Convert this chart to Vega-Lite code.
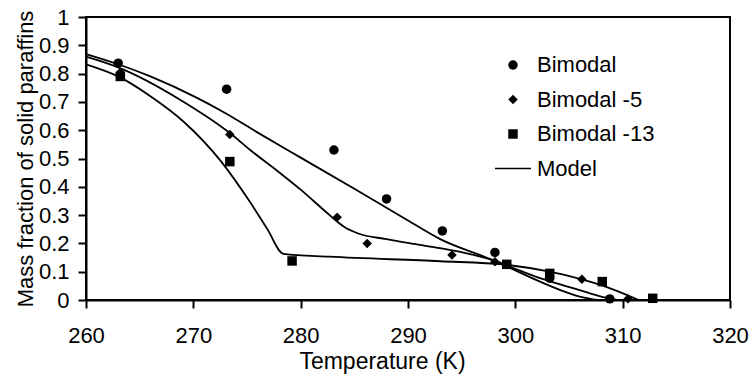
{
  "$schema": "https://vega.github.io/schema/vega-lite/v6.json",
  "width": 644,
  "height": 283,
  "autosize": "none",
  "padding": {"left": 86, "top": 17, "right": 25, "bottom": 76},
  "background": "white",
  "config": {
    "view": {"stroke": "black", "strokeWidth": 2},
    "font": "Liberation Sans",
    "axis": {
      "grid": false,
      "domainColor": "black",
      "domainWidth": 2,
      "tickColor": "black",
      "tickWidth": 2,
      "tickSize": 8,
      "labelColor": "black",
      "labelFont": "Liberation Sans",
      "labelFontSize": 22,
      "labelOverlap": false,
      "titleFont": "Liberation Sans",
      "titleColor": "black",
      "titleFontWeight": "normal"
    }
  },
  "datasets": {
    "points": [
      {"T": 263.0, "frac": 0.837, "series": "Bimodal"},
      {"T": 273.1, "frac": 0.745, "series": "Bimodal"},
      {"T": 283.1, "frac": 0.53, "series": "Bimodal"},
      {"T": 288.0, "frac": 0.357, "series": "Bimodal"},
      {"T": 293.2, "frac": 0.244, "series": "Bimodal"},
      {"T": 298.1, "frac": 0.168, "series": "Bimodal"},
      {"T": 303.2, "frac": 0.077, "series": "Bimodal"},
      {"T": 308.8, "frac": 0.004, "series": "Bimodal"},
      {"T": 263.2, "frac": 0.805, "series": "Bimodal -5"},
      {"T": 273.4, "frac": 0.585, "series": "Bimodal -5"},
      {"T": 283.4, "frac": 0.292, "series": "Bimodal -5"},
      {"T": 286.2, "frac": 0.2, "series": "Bimodal -5"},
      {"T": 294.1, "frac": 0.159, "series": "Bimodal -5"},
      {"T": 298.1, "frac": 0.135, "series": "Bimodal -5"},
      {"T": 306.2, "frac": 0.073, "series": "Bimodal -5"},
      {"T": 310.5, "frac": 0.004, "series": "Bimodal -5"},
      {"T": 263.2, "frac": 0.79, "series": "Bimodal -13"},
      {"T": 273.4, "frac": 0.489, "series": "Bimodal -13"},
      {"T": 279.2, "frac": 0.138, "series": "Bimodal -13"},
      {"T": 299.2, "frac": 0.126, "series": "Bimodal -13"},
      {"T": 303.2, "frac": 0.094, "series": "Bimodal -13"},
      {"T": 308.1, "frac": 0.065, "series": "Bimodal -13"},
      {"T": 312.8, "frac": 0.006, "series": "Bimodal -13"}
    ],
    "model": [
      {"T": 260.0, "frac": 0.869, "curve": "A"},
      {"T": 263.0, "frac": 0.833, "curve": "A"},
      {"T": 266.0, "frac": 0.79, "curve": "A"},
      {"T": 270.3, "frac": 0.715, "curve": "A"},
      {"T": 273.0, "frac": 0.66, "curve": "A"},
      {"T": 276.2, "frac": 0.587, "curve": "A"},
      {"T": 280.0, "frac": 0.503, "curve": "A"},
      {"T": 285.0, "frac": 0.393, "curve": "A"},
      {"T": 289.6, "frac": 0.29, "curve": "A"},
      {"T": 293.0, "frac": 0.215, "curve": "A"},
      {"T": 297.9, "frac": 0.141, "curve": "A"},
      {"T": 302.3, "frac": 0.065, "curve": "A"},
      {"T": 304.2, "frac": 0.035, "curve": "A"},
      {"T": 306.0, "frac": 0.012, "curve": "A"},
      {"T": 307.6, "frac": 0.0, "curve": "A"},
      {"T": 260.0, "frac": 0.86, "curve": "B"},
      {"T": 263.0, "frac": 0.822, "curve": "B"},
      {"T": 268.8, "frac": 0.707, "curve": "B"},
      {"T": 273.4, "frac": 0.59, "curve": "B"},
      {"T": 275.3, "frac": 0.53, "curve": "B"},
      {"T": 278.1, "frac": 0.448, "curve": "B"},
      {"T": 280.0, "frac": 0.39, "curve": "B"},
      {"T": 282.7, "frac": 0.3, "curve": "B"},
      {"T": 284.0, "frac": 0.26, "curve": "B"},
      {"T": 285.3, "frac": 0.236, "curve": "B"},
      {"T": 288.0, "frac": 0.215, "curve": "B"},
      {"T": 290.5, "frac": 0.198, "curve": "B"},
      {"T": 293.0, "frac": 0.183, "curve": "B"},
      {"T": 296.0, "frac": 0.16, "curve": "B"},
      {"T": 298.0, "frac": 0.14, "curve": "B"},
      {"T": 300.0, "frac": 0.11, "curve": "B"},
      {"T": 302.3, "frac": 0.077, "curve": "B"},
      {"T": 306.0, "frac": 0.035, "curve": "B"},
      {"T": 308.0, "frac": 0.012, "curve": "B"},
      {"T": 309.5, "frac": 0.0, "curve": "B"},
      {"T": 260.0, "frac": 0.833, "curve": "C"},
      {"T": 263.0, "frac": 0.79, "curve": "C"},
      {"T": 266.0, "frac": 0.72, "curve": "C"},
      {"T": 269.1, "frac": 0.63, "curve": "C"},
      {"T": 272.6, "frac": 0.489, "curve": "C"},
      {"T": 275.3, "frac": 0.345, "curve": "C"},
      {"T": 276.9, "frac": 0.25, "curve": "C"},
      {"T": 278.4, "frac": 0.163, "curve": "C"},
      {"T": 282.7, "frac": 0.153, "curve": "C"},
      {"T": 293.0, "frac": 0.137, "curve": "C"},
      {"T": 299.0, "frac": 0.125, "curve": "C"},
      {"T": 303.2, "frac": 0.1, "curve": "C"},
      {"T": 306.2, "frac": 0.073, "curve": "C"},
      {"T": 308.2, "frac": 0.05, "curve": "C"},
      {"T": 311.5, "frac": 0.0, "curve": "C"}
    ]
  },
  "layer": [
    {
      "data": {"name": "model"},
      "mark": {"type": "line", "color": "black", "strokeWidth": 1.8, "interpolate": "monotone"},
      "encoding": {
        "x": {"field": "T", "type": "quantitative", "scale": {"domain": [260, 320], "nice": false, "zero": false},
          "axis": {"values": [260, 270, 280, 290, 300, 310, 320], "title": "Temperature (K)", "titleFontSize": 23, "titleX": 296, "titleY": 68, "titleBaseline": "alphabetic", "titleAlign": "center", "labelBaseline": "alphabetic", "labelPadding": 34, "labelFlush": false, "labelOverlap": false}},
        "y": {"field": "frac", "type": "quantitative", "scale": {"domain": [0, 1], "nice": false},
          "axis": {"values": [0, 0.1, 0.2, 0.3, 0.4, 0.5, 0.6, 0.7, 0.8, 0.9, 1], "tickCount": 11, "format": ".1~f", "labelPadding": 9, "labelBaseline": "middle", "labelOverlap": false, "labelBound": false, "title": "Mass fraction of solid paraffins", "titleFontSize": 22, "titleX": -54, "titleY": 141.5, "titleAngle": 270, "titleBaseline": "alphabetic", "titleAlign": "center"}},
        "detail": {"field": "curve", "type": "nominal"}
      }
    },
    {
      "data": {"name": "points"},
      "mark": {"type": "point", "filled": true, "color": "black", "size": 90, "opacity": 1},
      "encoding": {
        "x": {"field": "T", "type": "quantitative"},
        "y": {"field": "frac", "type": "quantitative"},
        "shape": {"field": "series", "type": "nominal",
          "scale": {"domain": ["Bimodal", "Bimodal -5", "Bimodal -13", "Model"], "range": ["circle", "diamond", "square", "M-3.8,-0.16H3.8V0.16H-3.8Z"]},
          "legend": {"title": null, "orient": "none", "legendX": 416, "legendY": 37, "labelFontSize": 22, "labelFont": "Liberation Sans", "labelColor": "black", "symbolFillColor": "black", "symbolStrokeColor": "black", "symbolStrokeWidth": 0, "symbolSize": 90, "symbolOpacity": 1, "labelOffset": 13, "rowPadding": 12.5, "padding": 0}}
      }
    }
  ]
}
